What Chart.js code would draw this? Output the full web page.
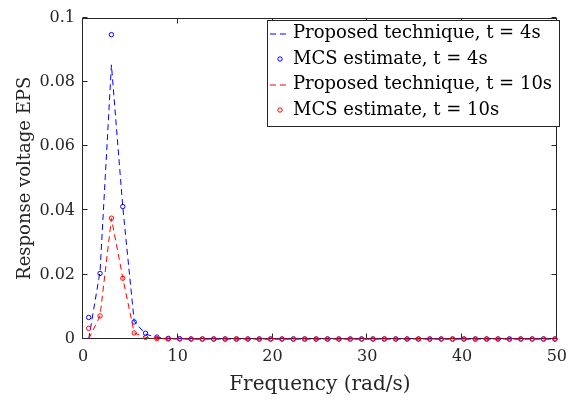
<!DOCTYPE html>
<html><head><meta charset="utf-8">
<script src="https://cdn.jsdelivr.net/npm/chart.js@4.4.0/dist/chart.umd.min.js"></script>
<style>html,body{margin:0;padding:0;background:#fff;overflow:hidden;}</style>
</head><body>
<canvas id="c" width="575" height="403" style="width:575px;height:403px;display:block"></canvas>
<script>
const frequency = [0.6,1.8,3.0,4.2,5.4,6.6,7.8,9.0,10.2,11.4,12.6,13.8,15.0,16.2,17.4,18.6,19.8,21.0,22.2,23.4,24.6,25.8,27.0,28.2,29.4,30.6,31.8,33.0,34.2,35.4,36.6,37.8,39.0,40.2,41.4,42.6,43.8,45.0,46.2,47.4,48.6,49.8];
const proposed4  = [0.0,0.021,0.0853,0.041,0.0055,0.0015,0.0005,0.0002,0.0001,0,0,0,0,0,0,0,0,0,0,0,0,0,0,0,0,0,0,0,0,0,0,0,0,0,0,0,0,0,0,0,0,0];
const mcs4       = [0.0067,0.0204,0.0947,0.0412,0.0053,0.0018,0.0006,0.0002,0.0001,0,0,0,0,0,0,0,0,0,0,0,0,0,0,0,0,0,0,0,0,0,0,0,0,0,0,0,0,0,0,0,0,0];
const proposed10 = [0.0,0.0072,0.0375,0.019,0.0019,0.0005,0.0001,0,0,0,0,0,0,0,0,0,0,0,0,0,0,0,0,0,0,0,0,0,0,0,0,0,0,0,0,0,0,0,0,0,0,0];
const mcs10      = [0.0033,0.0072,0.0376,0.0189,0.0019,0.0005,0.0001,0,0,0,0,0,0,0,0,0,0,0,0,0,0,0,0,0,0,0,0,0,0,0,0,0,0,0,0,0,0,0,0,0,0,0];
const xTicks = [0,10,20,30,40,50];
const xTickLabels = ['0','10','20','30','40','50'];
const yTicks = [0,0.02,0.04,0.06,0.08,0.1];
const yTickLabels = ['0','0.02','0.04','0.06','0.08','0.1'];
const seriesLabels = ['Proposed technique, t = 4s','MCS estimate, t = 4s','Proposed technique, t = 10s','MCS estimate, t = 10s'];
const xTitle = 'Frequency (rad/s)';
const yTitle = 'Response voltage EPS';

const BLUE = '#0000ff', RED = '#ff0000', AX = '#262626';
const FONT = '"DejaVu Serif", serif';
const pts = ys => frequency.map((x, i) => ({x: x, y: ys[i]}));

const boxPlugin = {
  id: 'box',
  beforeDatasetsDraw(chart) {
    const {ctx, chartArea: a, scales} = chart;
    const L = Math.round(a.left) - 0.5, R = Math.round(a.right) - 0.5;
    const T = Math.round(a.top) + 0.5, B = Math.round(a.bottom) - 0.5;
    ctx.save();
    ctx.strokeStyle = AX; ctx.lineWidth = 1;
    ctx.strokeRect(L, T, R - L, B - T);
    ctx.beginPath();
    xTicks.forEach(v => {
      const p = Math.round(scales.x.getPixelForValue(v)) - 0.5;
      ctx.moveTo(p, B); ctx.lineTo(p, B - 5);
      ctx.moveTo(p, T); ctx.lineTo(p, T + 5);
    });
    yTicks.forEach(v => {
      const p = Math.round(scales.y.getPixelForValue(v)) - 0.5;
      ctx.moveTo(L, p); ctx.lineTo(L + 5, p);
      ctx.moveTo(R, p); ctx.lineTo(R - 5, p);
    });
    ctx.stroke();
    ctx.restore();
  },
  afterDraw(chart) {
    const ctx = chart.ctx;
    const ds = chart.data.datasets;
    const order = [0, 1, 2, 3];
    const bx = 267.5, by = 20.5, bw = 292, bh = 106;
    ctx.save();
    ctx.fillStyle = '#fff';
    ctx.fillRect(bx, by, bw, bh);
    ctx.strokeStyle = AX; ctx.lineWidth = 1;
    ctx.strokeRect(bx, by, bw, bh);
    const rows = [33.5, 59, 84.5, 110];
    order.forEach((di, r) => {
      const d = ds[di];
      const y = rows[r];
      if (d.showLine) {
        ctx.save();
        ctx.strokeStyle = d.borderColor; ctx.lineWidth = 1;
        ctx.setLineDash([6, 4]);
        ctx.beginPath(); ctx.moveTo(270, y + 0.5); ctx.lineTo(288, y + 0.5); ctx.stroke();
        ctx.restore();
      } else {
        ctx.strokeStyle = d.pointBorderColor; ctx.lineWidth = 1;
        ctx.beginPath(); ctx.arc(280, y, 2.2, 0, Math.PI * 2); ctx.stroke();
      }
      ctx.fillStyle = '#000';
      ctx.font = '18px ' + FONT;
      ctx.textBaseline = 'middle'; ctx.textAlign = 'left';
      ctx.fillText(d.label, 293, y);
    });
    ctx.restore();
  }
};

new Chart(document.getElementById('c'), {
  type: 'scatter',
  data: {
    datasets: [
      {label: seriesLabels[0], data: pts(proposed4), showLine: true, borderColor: BLUE, borderWidth: 1, borderDash: [6, 4], pointRadius: 0, fill: false, order: 3, clip: false},
      {label: seriesLabels[1], data: pts(mcs4), showLine: false, pointRadius: 2.2, pointBorderColor: BLUE, pointBackgroundColor: 'rgba(0,0,0,0)', pointBorderWidth: 1, order: 2, clip: false},
      {label: seriesLabels[2], data: pts(proposed10), showLine: true, borderColor: RED, borderWidth: 1, borderDash: [6, 4], pointRadius: 0, fill: false, order: 1, clip: false},
      {label: seriesLabels[3], data: pts(mcs10), showLine: false, pointRadius: 2.2, pointBorderColor: RED, pointBackgroundColor: 'rgba(0,0,0,0)', pointBorderWidth: 1, order: 0, clip: false}
    ]
  },
  options: {
    responsive: false,
    animation: false,
    devicePixelRatio: 1,
    layout: {padding: {top: 15, right: 11, left: 0, bottom: 0}},
    plugins: {legend: {display: false}, tooltip: {enabled: false}},
    elements: {line: {tension: 0}},
    scales: {
      x: {
        type: 'linear', min: 0, max: 50,
        afterBuildTicks: s => { s.ticks = xTicks.map(v => ({value: v})); },
        afterFit: s => { s.height = 64; },
        grid: {display: false, drawTicks: false},
        border: {display: false},
        ticks: {color: AX, font: {family: FONT, size: 16}, padding: 8, maxRotation: 0,
          callback: (v, i) => xTickLabels[i]},
        title: {display: true, text: xTitle, color: AX, font: {family: FONT, size: 20}, padding: {top: 0, bottom: 6}}
      },
      y: {
        type: 'linear', min: 0, max: 0.1,
        afterBuildTicks: s => { s.ticks = yTicks.map(v => ({value: v})); },
        afterFit: s => { s.width = 83; },
        grid: {display: false, drawTicks: false},
        border: {display: false},
        ticks: {color: AX, font: {family: FONT, size: 16}, padding: 8,
          callback: (v, i) => yTickLabels[i]},
        title: {display: true, text: yTitle, color: AX, font: {family: FONT, size: 18}, padding: {top: 15, bottom: 0}}
      }
    }
  },
  plugins: [boxPlugin]
});
</script>
</body></html>
